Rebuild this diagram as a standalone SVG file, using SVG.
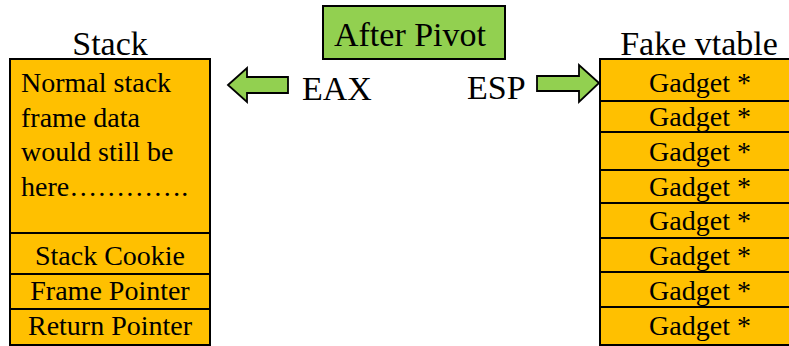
<svg xmlns="http://www.w3.org/2000/svg" width="789" height="346" viewBox="0 0 789 346">
<style>
  .t { font-family: "Liberation Serif", "Times New Roman", serif; fill: #000; }
  .title { font-size: 34px; }
  .body { font-size: 28px; }
  .cell { fill: #FFC000; stroke: #000; stroke-width: 2; }
  .green { fill: #92D050; stroke: #000; stroke-width: 2; }
  .arrow { fill: #92D050; stroke: #000; stroke-width: 1.8; stroke-linejoin: miter; }
</style>
<rect width="789" height="346" fill="#fff"/>

<g id="after-pivot">
  <rect class="green" x="323" y="6" width="182" height="53"/>
  <text class="t title" x="410" y="46" text-anchor="middle">After Pivot</text>
</g>

<g id="stack">
  <text class="t title" x="110" y="55" text-anchor="middle">Stack</text>
  <rect class="cell" x="10" y="59" width="200" height="174"/>
  <text class="t body" x="21" y="92">Normal stack</text>
  <text class="t body" x="21" y="127">frame data</text>
  <text class="t body" x="21" y="161">would still be</text>
  <text class="t body" x="21" y="196">here………….</text>
  <rect class="cell" x="10" y="233" width="200" height="41"/>
  <text class="t body" x="110" y="265" text-anchor="middle">Stack Cookie</text>
  <rect class="cell" x="10" y="274" width="200" height="35"/>
  <text class="t body" x="110" y="300" text-anchor="middle">Frame Pointer</text>
  <rect class="cell" x="10" y="309" width="200" height="36"/>
  <text class="t body" x="110" y="335" text-anchor="middle">Return Pointer</text>
</g>

<g id="fake-vtable">
  <text class="t title" x="699" y="55" text-anchor="middle">Fake vtable</text>
  <rect class="cell" x="600" y="59" width="200" height="42"/>
  <rect class="cell" x="600" y="101" width="200" height="31"/>
  <rect class="cell" x="600" y="132" width="200" height="38"/>
  <rect class="cell" x="600" y="170" width="200" height="33"/>
  <rect class="cell" x="600" y="203" width="200" height="35"/>
  <rect class="cell" x="600" y="238" width="200" height="34"/>
  <rect class="cell" x="600" y="272" width="200" height="35"/>
  <rect class="cell" x="600" y="307" width="200" height="38"/>
  <text class="t body" x="700" y="92" text-anchor="middle">Gadget *</text>
  <text class="t body" x="700" y="126" text-anchor="middle">Gadget *</text>
  <text class="t body" x="700" y="161" text-anchor="middle">Gadget *</text>
  <text class="t body" x="700" y="196" text-anchor="middle">Gadget *</text>
  <text class="t body" x="700" y="230" text-anchor="middle">Gadget *</text>
  <text class="t body" x="700" y="265" text-anchor="middle">Gadget *</text>
  <text class="t body" x="700" y="300" text-anchor="middle">Gadget *</text>
  <text class="t body" x="700" y="335" text-anchor="middle">Gadget *</text>
</g>

<g id="eax">
  <text class="t title" x="302" y="100">EAX</text>
</g>

<g id="esp">
  <text class="t title" x="467" y="99">ESP</text>
</g>

<g id="connectors">
  <polygon class="arrow" points="228,85 247,68 247,77 288,77 288,93 247,93 247,102"/>
  <polygon class="arrow" points="599,83 579,65 579,76 537,76 537,91 579,91 579,102"/>
</g>
</svg>
